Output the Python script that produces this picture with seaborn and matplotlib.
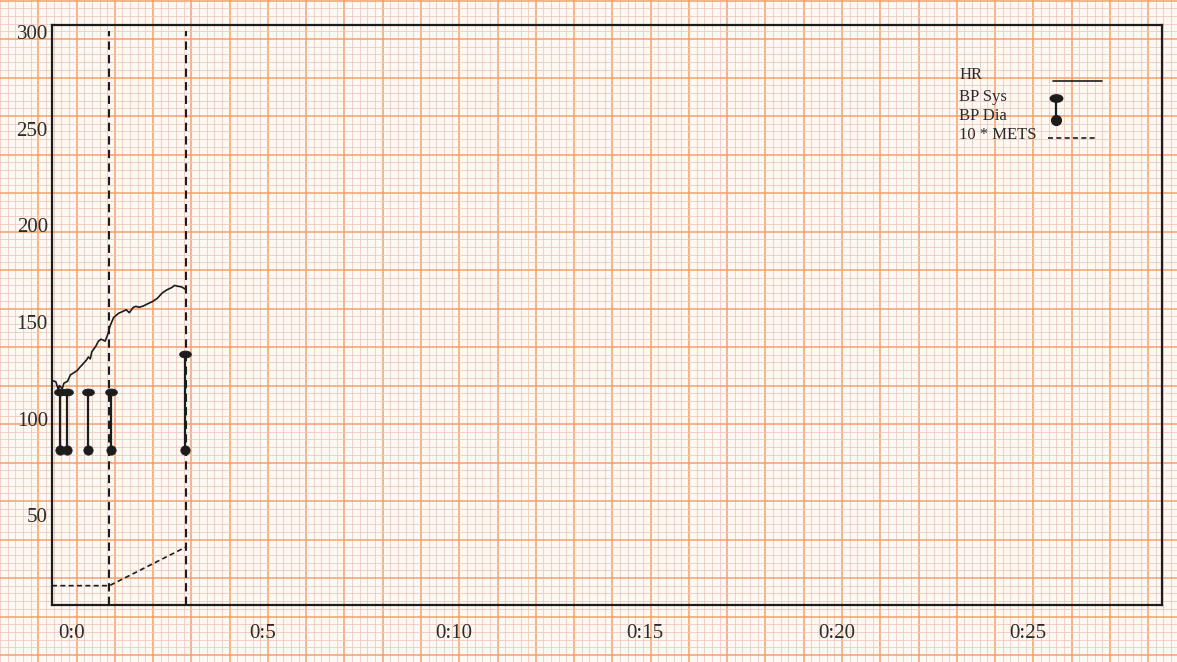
import numpy as np
import pandas as pd
import matplotlib
matplotlib.use("Agg")
import matplotlib.pyplot as plt
import seaborn as sns
from matplotlib.path import Path
from matplotlib.transforms import Affine2D

# ---------------- data ----------------
hr_time = [-0.48, -0.40, -0.33, -0.31, -0.23, -0.19, -0.09, -0.02, 0.06, 0.16,
           0.23, 0.30, 0.40, 0.45, 0.50, 0.54, 0.64, 0.71, 0.78, 0.89,
           0.96, 1.02, 1.11, 1.24, 1.31, 1.44, 1.52, 1.62, 1.69, 1.77,
           1.88, 2.00, 2.13, 2.25, 2.38, 2.50, 2.63, 2.70, 2.78, 2.89, 2.97]
hr_value = [116, 115.5, 111, 113.5, 112, 114.7, 115.8, 119, 120, 121.3,
            123, 124.5, 126.7, 128.3, 127.3, 131, 133.7, 136.4, 137.5, 136.5,
            140.2, 144.5, 148.7, 150.9, 151.5, 152.7, 151.2, 153.9, 154.5, 154,
            154.6, 155.8, 157, 158.6, 161.4, 163, 164.2, 165.3, 164.9, 164.5, 163.5]

bp_time = [-0.28, -0.12, 0.45, 1.04, 2.98]
bp_sys = [110, 110, 110, 110, 130]
bp_dia = [80, 80, 80, 80, 80]

mets_time = [-0.5, 1.0, 3.0]
mets_x10 = [10, 10, 30]

stage_time = [1.0, 3.0]
stage_top = 297

x_ticks = [0, 5, 10, 15, 20, 25]
x_tick_labels = ["0:0", "0:5", "0:10", "0:15", "0:20", "0:25"]
y_ticks = [50, 100, 150, 200, 250, 300]
y_tick_labels = ["50", "100", "150", "200", "250", "300"]
legend_labels = ["HR", "BP Sys", "BP Dia", "10 * METS"]

# ---------------- style ----------------
sns.set_style("white")
plt.rcParams["font.family"] = ["Liberation Serif", "DejaVu Serif"]

W, H = 1177, 662
fig = plt.figure(figsize=(W / 100, H / 100), dpi=100)
fig.patch.set_facecolor("#FFF9F4")

ink = "#1c1c1c"

# ---------------- paper grid background ----------------
bg = fig.add_axes([0, 0, 1, 1], zorder=0)
bg.set_xlim(0, W)
bg.set_ylim(H, 0)
bg.set_facecolor("#FFF9F4")
bg.set_xticks(np.arange(31.5, W, 38.5))
bg.set_xticks(np.arange(31.5 - 38.5, W, 7.7), minor=True)
bg.set_yticks(np.arange(0.5, H, 38.5))
bg.set_yticks(np.arange(0.5, H, 7.7), minor=True)
bg.grid(which="minor", color="#EFC6BC", lw=0.55)
bg.grid(which="major", color="#F7A06C", lw=1.1)
bg.tick_params(which="both", length=0, labelbottom=False, labelleft=False)
for s in bg.spines.values():
    s.set_visible(False)

# ---------------- main chart ----------------
ax = fig.add_axes([52 / W, 1 - 605 / H, 1110 / W, 580 / H], zorder=2)
ax.set_facecolor("none")

hr_df = pd.DataFrame({"t": hr_time, "hr": hr_value})
sns.lineplot(data=hr_df, x="t", y="hr", ax=ax, color=ink, lw=1.2,
             estimator=None, sort=False)

mets_df = pd.DataFrame({"t": mets_time, "m": mets_x10})
sns.lineplot(data=mets_df, x="t", y="m", ax=ax, color=ink, lw=1.2,
             estimator=None, sort=False, dashes=False, linestyle=(0, (3, 2)))

ax.vlines(stage_time, 0, stage_top, colors=ink, lw=1.5, linestyles=(0, (4, 2.5)))

ax.vlines(bp_time, bp_dia, bp_sys, colors=ink, lw=1.6)
oval = Path.unit_circle().transformed(Affine2D().scale(1.7, 1.0))
bp_df = pd.DataFrame({"t": bp_time, "sys": bp_sys, "dia": bp_dia})
sns.scatterplot(data=bp_df, x="t", y="sys", ax=ax, marker=oval, s=70,
                color=ink, edgecolor=ink, zorder=4)
sns.scatterplot(data=bp_df, x="t", y="dia", ax=ax, marker="o", s=45,
                color=ink, edgecolor=ink, zorder=4)

ax.set_xlim(-0.5, 28.5)
ax.set_ylim(0, 300)
ax.set_xlabel("")
ax.set_ylabel("")
ax.set_xticks(x_ticks)
ax.set_xticklabels(x_tick_labels)
ax.set_yticks(y_ticks)
ax.set_yticklabels(y_tick_labels)
ax.tick_params(axis="both", direction="in", length=7, width=1.2, color=ink,
               labelsize=15, labelcolor="#2a2a2a")
ax.tick_params(axis="x", pad=14)
ax.tick_params(axis="y", pad=3)
for lab in ax.get_yticklabels():
    lab.set_va("top")
for s in ax.spines.values():
    s.set_visible(True)
    s.set_color(ink)
    s.set_linewidth(1.6)

# ---------------- legend (drawn on the paper layer) ----------------
leg_y = [75, 97, 116, 135]
for lab, y in zip(legend_labels, leg_y):
    bg.text(958, y, lab, fontsize=12, va="center", ha="left", color="#2a2a2a",
            zorder=5)
bg.plot([1052, 1102], [81, 81], color=ink, lw=1.2, zorder=5)
bg.plot([1055, 1055], [98, 120], color=ink, lw=1.6, zorder=5)
bg.plot([1055], [98], marker=oval, ms=9, color=ink, zorder=6)
bg.plot([1055], [120], marker="o", ms=7, color=ink, zorder=6)
bg.plot([1047, 1098], [138, 138], color=ink, lw=1.2, linestyle=(0, (3, 2)),
        zorder=5)

fig.savefig("out.png", dpi=100, facecolor=fig.get_facecolor())
